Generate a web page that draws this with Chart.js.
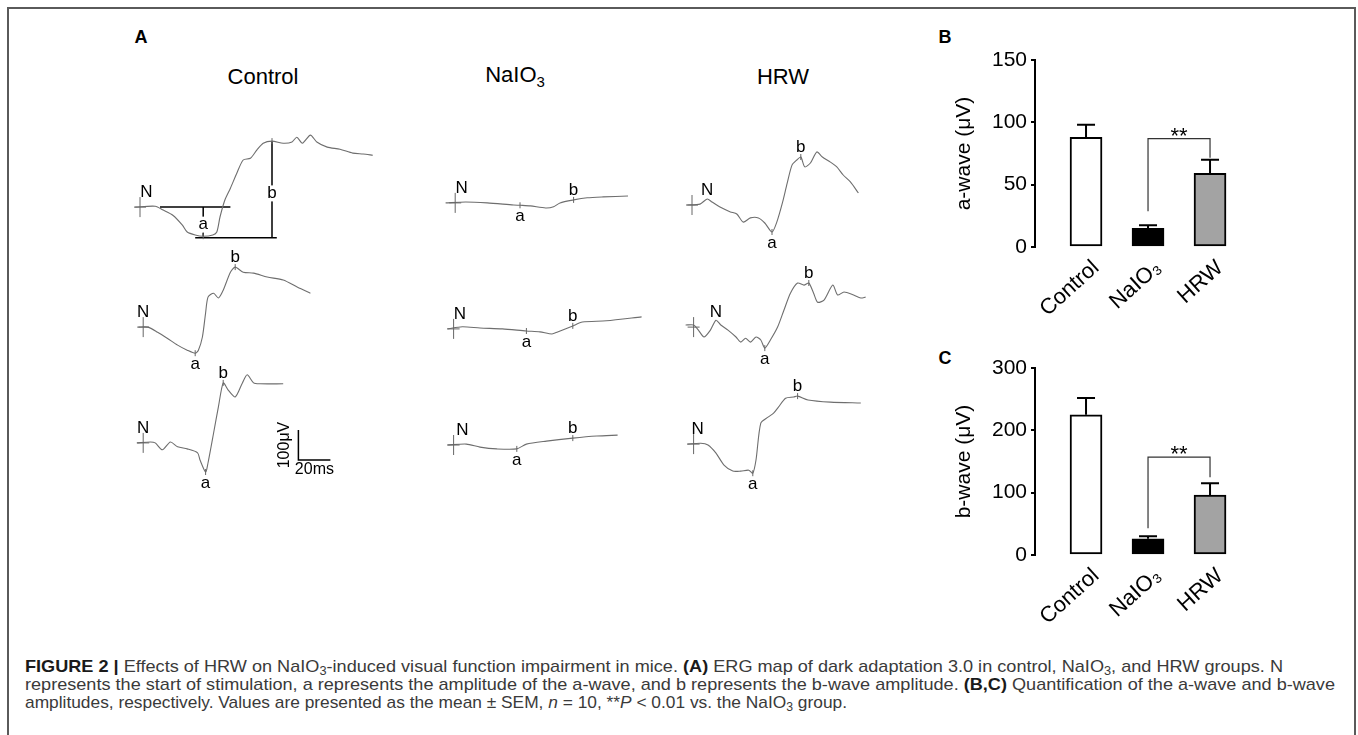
<!DOCTYPE html>
<html>
<head>
<meta charset="utf-8">
<script src="https://cdn.jsdelivr.net/npm/chart.js@4.4.1/dist/chart.umd.min.js"></script>
<style>
  html, body { margin: 0; padding: 0; background: #fff; }
  body { width: 1358px; height: 735px; position: relative; overflow: hidden; font-family: "Liberation Sans", Arial, sans-serif; }
  #frame { position: absolute; left: 7px; top: 7px; width: 1349px; height: 780px; border: 2px solid #5a5a5a; box-sizing: border-box; }
  .panel { position: absolute; font-weight: bold; font-size: 18px; color: #000; transform: translate(-50%, -50%); }
  .ttl { position: absolute; font-size: 22px; color: #000; transform: translate(-50%, -50%); white-space: nowrap; }
  canvas { position: absolute; }
  .ln { position: absolute; left: 25px; font-size: 17px; line-height: 20px; color: #3a3a3a; white-space: nowrap; transform-origin: 0 0; }
  .ln b { color: #1a1a1a; }
  sub { font-size: 12px; vertical-align: -3px; line-height: 0; }
  .ttl sub { font-size: 15px; vertical-align: -5px; }
</style>
</head>
<body>
<div id="frame"></div>

<div class="panel" style="left:141px;top:37px">A</div>
<div class="panel" style="left:945px;top:37px">B</div>
<div class="panel" style="left:945px;top:358px">C</div>

<div class="ttl" style="left:263px;top:77px">Control</div>
<div class="ttl" style="left:515px;top:75px">NaIO<sub>3</sub></div>
<div class="ttl" style="left:783px;top:77px">HRW</div>

<canvas id="erg" width="800" height="420" style="left:100px;top:100px"></canvas>
<canvas id="chartB" width="320" height="300" style="left:940px;top:40px"></canvas>
<canvas id="chartC" width="320" height="300" style="left:940px;top:348px"></canvas>

<div class="ln" data-w="1258" style="top:657px"><b>FIGURE 2 |</b> Effects of HRW on NaIO<sub>3</sub>-induced visual function impairment in mice. <b>(A)</b> ERG map of dark adaptation 3.0 in control, NaIO<sub>3</sub>, and HRW groups. N</div>
<div class="ln" data-w="1310" style="top:675px">represents the start of stimulation, a represents the amplitude of the a-wave, and b represents the b-wave amplitude. <b>(B,C)</b> Quantification of the a-wave and b-wave</div>
<div class="ln" data-w="822" style="top:693px">amplitudes, respectively. Values are presented as the mean ± SEM, <i>n</i> = 10, **<i>P</i> &lt; 0.01 vs. the NaIO<sub>3</sub> group.</div>

<script>
const groups = ['Control', 'NaIO₃', 'HRW'];
const aWaveMean = [88, 15, 59];
const aWaveSem = [10, 2.5, 11];
const bWaveMean = [225, 26, 96];
const bWaveSem = [27, 4, 19];
const aWaveTicks = [0, 50, 100, 150];
const bWaveTicks = [0, 100, 200, 300];

// ERG recordings, [time ms, amplitude uV] measured from the stimulus
const ergControl1 = [[-3,0],[9.5,3],[14.5,-10],[20.5,-27],[26.5,-60],[29.5,-83],[34.5,-93],[39.5,-97],[45.5,-93],[48,-83],[50,-33],[53,23],[56.5,63],[60.5,113],[64.5,157],[69,163],[73,190],[77,213],[82.5,220],[89.5,213],[95,217],[98,233],[101.5,213],[106.5,240],[110.5,217],[117,200],[125,193],[133,180],[139.5,177],[145.5,173]];
const ergControl2 = [[-3,0],[3,0],[9,-17],[15,-37],[21.5,-60],[27.5,-77],[32.5,-87],[34.5,-77],[37,-33],[39,47],[40.5,100],[44,113],[47,97],[50,123],[54.5,183],[57.5,200],[62.5,183],[69,180],[77.5,167],[87.5,157],[96.5,133],[104.5,113]];
const ergControl3 = [[-4,0],[4.5,3],[7.5,0],[12,-23],[17,3],[21.5,-13],[27.5,-20],[34,-33],[35.5,-57],[39,-97],[40.5,-67],[44,33],[47,120],[50,200],[53,177],[57.5,153],[62,200],[65,227],[69,200],[73,197],[87.5,197]];
const ergNaIO1 = [[-6,0],[6.5,3],[20,0],[36.5,-7],[40.5,-8],[47,-10],[56.5,-17],[61.5,-13],[65.5,0],[74,10],[82.5,17],[92.5,20],[108,23]];
const ergNaIO2 = [[-4,0],[5.5,7],[16.5,3],[30.5,0],[45.5,-7],[54,-10],[61.5,-17],[65,-10],[74.5,10],[80.5,23],[95.5,27],[117.5,40]];
const ergNaIO3 = [[-4,0],[8,3],[16.5,-7],[27,-13],[39.5,-13],[45.5,3],[58,13],[74.5,23],[89.5,30],[102.5,33]];
const ergHRW1 = [[-3,0],[5,3],[9.5,20],[12.5,10],[17.5,-7],[24,-23],[28,-30],[32,-57],[36.5,-43],[41.5,-43],[45.5,-60],[50,-90],[53,-57],[56.5,7],[59.5,73],[62.5,133],[65.5,150],[68,160],[70.5,127],[74,140],[78,177],[81.5,160],[86.5,143],[90.5,127],[94.5,100],[99,77],[104,40]];
const ergHRW2 = [[-5,7],[0,7],[3,-10],[6.5,-33],[10.5,-10],[14,23],[17,7],[21.5,-10],[26.5,-33],[29.5,-50],[32.5,-37],[35.5,-50],[39,-33],[42,-43],[44.5,-70],[48,-43],[52.5,0],[56.5,57],[60.5,113],[65,147],[69,140],[72,147],[75,113],[77.5,83],[81.5,90],[87,140],[90,107],[94,117],[100,107],[104.5,97],[107.5,100]];
const ergHRW3 = [[-4,0],[4.5,3],[9,-3],[14,-30],[19,-70],[24.5,-90],[29.5,-90],[34.5,-87],[37,-97],[39,-53],[42,70],[46.5,90],[50,103],[53,123],[57.5,153],[62.5,157],[65,160],[71.5,147],[85.5,140],[104.5,137]];

const ergTraces = [ergControl1, ergControl2, ergControl3, ergNaIO1, ergNaIO2, ergNaIO3, ergHRW1, ergHRW2, ergHRW3];
const stimTimes = [4, 0, 0, 4, 4, 5.5, 9.5, 14, 2.5];
const aWaveTimes = [39.5, 32.5, 39, 40.5, 45.5, 39.5, 50, 44.5, 37];
const bWaveTimes = [82.5, 57.5, 50, 74, 74.5, 74.5, 68, 72, 65];

// where each trace sits on the panel A axes (ms, uV)
const traceX = [25, 27, 27, 222, 221, 221, 370, 371, 371];
const traceY = [-357, -757, -1143, -343, -763, -1150, -350, -757, -1147];
const scaleBarAt = [124, -1200];

Chart.defaults.font.family = '"Liberation Sans", Arial, sans-serif';
Chart.defaults.color = '#000';

const pointAt = (i, t) => ergTraces[i].find(p => p[0] === t);

// panel A
const ergSets = ergTraces.map((tr, i) => ({
  data: tr.map(([t, v]) => ({ x: traceX[i] + t, y: traceY[i] + v })),
  borderColor: '#6e6e6e',
  borderWidth: 1.1,
  pointRadius: 0,
  tension: 0.25
}));

const a0 = pointAt(0, aWaveTimes[0]);
const b0 = pointAt(0, bWaveTimes[0]);
const seg = pts => ({
  data: pts.map(([t, v]) => ({ x: traceX[0] + t, y: traceY[0] + v })),
  borderColor: '#000', borderWidth: 1.5, pointRadius: 0, tension: 0
});
const measureSets = [
  seg([[a0[0] - 27, 0], [a0[0] + 17, 0]]),
  seg([[a0[0], 0], [a0[0], a0[1]]]),
  seg([[a0[0] - 5, a0[1] - 5], [b0[0] + 3, a0[1] - 5]]),
  seg([[b0[0], b0[1]], [b0[0], a0[1] - 5]])
];
const scaleBarSet = {
  data: [
    { x: scaleBarAt[0], y: scaleBarAt[1] + 100 },
    { x: scaleBarAt[0], y: scaleBarAt[1] },
    { x: scaleBarAt[0] + 20, y: scaleBarAt[1] }
  ],
  borderColor: '#000', borderWidth: 1.5, pointRadius: 0, tension: 0
};

const ergLabels = {
  id: 'ergLabels',
  afterDatasetsDraw(chart) {
    const { ctx, scales: { x, y } } = chart;
    ctx.save();
    ctx.font = '17px "Liberation Sans", Arial, sans-serif';
    ctx.fillStyle = '#000';
    ctx.textAlign = 'center';
    ergTraces.forEach((tr, i) => {
      const px = t => x.getPixelForValue(traceX[i] + t);
      const py = v => y.getPixelForValue(traceY[i] + v);
      // stimulus cross
      ctx.strokeStyle = '#666';
      ctx.lineWidth = 1;
      ctx.beginPath();
      ctx.moveTo(px(0), py(0) - 10); ctx.lineTo(px(0), py(0) + 10);
      ctx.moveTo(px(0) - 6, py(0)); ctx.lineTo(px(0) + 6, py(0));
      ctx.stroke();
      const a = pointAt(i, aWaveTimes[i]);
      const b = pointAt(i, bWaveTimes[i]);
      ctx.beginPath();
      [a, b].forEach(p => { ctx.moveTo(px(p[0]), py(p[1]) - 3); ctx.lineTo(px(p[0]), py(p[1]) + 3); });
      ctx.stroke();
      ctx.textBaseline = 'alphabetic';
      ctx.fillText('N', px(stimTimes[i]), py(0) - 10);
      if (i === 0) {
        const drawOn = (txt, cx, cy) => {
          ctx.fillStyle = '#fff';
          ctx.fillRect(cx - 6, cy - 8, 12, 16);
          ctx.fillStyle = '#000';
          ctx.textBaseline = 'middle';
          ctx.fillText(txt, cx, cy);
        };
        drawOn('a', px(a[0]), (py(0) + py(a[1])) / 2 + 3);
        drawOn('b', px(b[0]), (py(b[1]) + py(a[1] - 5)) / 2 + 4);
      } else {
        ctx.textBaseline = 'top';
        ctx.fillText('a', px(a[0]), py(a[1]) + 3);
        ctx.textBaseline = 'alphabetic';
        ctx.fillText('b', px(b[0]), py(b[1]) - 5);
      }
    });
    // scale bar text
    const sx = x.getPixelForValue(scaleBarAt[0]);
    const sy = y.getPixelForValue(scaleBarAt[1]);
    const sTop = y.getPixelForValue(scaleBarAt[1] + 100);
    ctx.font = '16px "Liberation Sans", Arial, sans-serif';
    ctx.textBaseline = 'middle';
    ctx.fillText('20ms', (sx + x.getPixelForValue(scaleBarAt[0] + 20)) / 2, sy + 10);
    ctx.translate(sx - 14, (sy + sTop) / 2);
    ctx.rotate(-Math.PI / 2);
    ctx.fillText('100μV', 0, 0);
    ctx.restore();
  }
};

new Chart(document.getElementById('erg'), {
  type: 'line',
  data: { datasets: [...ergSets, ...measureSets, scaleBarSet] },
  options: {
    responsive: false,
    animation: false,
    events: [],
    layout: { padding: 0 },
    plugins: { legend: { display: false }, tooltip: { enabled: false } },
    scales: {
      x: { type: 'linear', display: false, min: 0, max: 500 },
      y: { type: 'linear', display: false, min: -1400, max: 0 }
    }
  },
  plugins: [ergLabels]
});

// panels B and C
const errorBars = {
  id: 'errorBars',
  afterDatasetsDraw(chart, args, opts) {
    const { ctx, scales: { y } } = chart;
    const bars = chart.getDatasetMeta(0).data;
    ctx.save();
    ctx.strokeStyle = '#000';
    ctx.lineWidth = 2;
    bars.forEach((bar, i) => {
      const top = y.getPixelForValue(opts.means[i] + opts.sems[i]);
      ctx.beginPath();
      ctx.moveTo(bar.x, bar.y); ctx.lineTo(bar.x, top);
      ctx.moveTo(bar.x - 9, top); ctx.lineTo(bar.x + 9, top);
      ctx.stroke();
    });
    const x1 = bars[1].x, x2 = bars[2].x;
    const yt = y.getPixelForValue(opts.bracket);
    const y1 = y.getPixelForValue(opts.means[1] + opts.sems[1]) - opts.gaps[0];
    const y2 = y.getPixelForValue(opts.means[2] + opts.sems[2]) - opts.gaps[1];
    ctx.strokeStyle = '#333';
    ctx.lineWidth = 1.2;
    ctx.beginPath();
    ctx.moveTo(x1, y1); ctx.lineTo(x1, yt); ctx.lineTo(x2, yt); ctx.lineTo(x2, y2);
    ctx.stroke();
    ctx.fillStyle = '#000';
    ctx.font = '22px "Liberation Sans", Arial, sans-serif';
    ctx.textAlign = 'center';
    ctx.textBaseline = 'alphabetic';
    ctx.fillText('**', (x1 + x2) / 2, yt + 4);
    ctx.restore();
  }
};

function barChart(id, means, sems, ticks, title, bracket, gaps) {
  new Chart(document.getElementById(id), {
    type: 'bar',
    data: {
      datasets: [{
        data: means.map((m, i) => ({ x: i + 1, y: m })),
        backgroundColor: ['#ffffff', '#000000', '#a3a3a3'],
        borderColor: '#000',
        borderWidth: 2,
        borderSkipped: false,
        barThickness: 32
      }]
    },
    options: {
      responsive: false,
      animation: false,
      events: [],
      layout: { padding: { top: 20, left: 0, right: 0, bottom: 0 } },
      plugins: {
        legend: { display: false },
        tooltip: { enabled: false },
        errorBars: { means, sems, bracket, gaps }
      },
      scales: {
        x: {
          type: 'linear', min: 0.177, max: 3.806, offset: false,
          afterBuildTicks: s => { s.ticks = [1, 2, 3].map(v => ({ value: v })); },
          afterFit: s => { s.height = 93; },
          grid: { display: false, offset: false },
          border: { display: false },
          ticks: { callback: v => groups[v - 1], minRotation: 42, maxRotation: 42, padding: 0, labelOffset: 10, font: { size: 22 }, color: '#000' }
        },
        y: {
          min: 0, max: ticks[ticks.length - 1],
          afterBuildTicks: s => { s.ticks = ticks.map(v => ({ value: v })); },
          afterFit: s => { s.width = 95; },
          grid: { drawOnChartArea: false, drawTicks: true, tickLength: 4, color: '#000', lineWidth: 2 },
          border: { color: '#000', width: 2 },
          ticks: { padding: 4, font: { size: 21 }, color: '#000' },
          title: { display: true, text: title, font: { size: 21 }, color: '#000', padding: { top: 12, bottom: 0 } }
        }
      }
    },
    plugins: [errorBars]
  });
}

barChart('chartB', aWaveMean, aWaveSem, aWaveTicks, 'a-wave (μV)', 87, [14, 2]);
barChart('chartC', bWaveMean, bWaveSem, bWaveTicks, 'b-wave (μV)', 157, [8, 6]);

// fit caption lines to their measured widths
document.querySelectorAll('.ln').forEach(el => {
  const w = el.getBoundingClientRect().width;
  el.style.transform = 'scaleX(' + (Number(el.dataset.w) / w) + ')';
});
</script>
</body>
</html>
